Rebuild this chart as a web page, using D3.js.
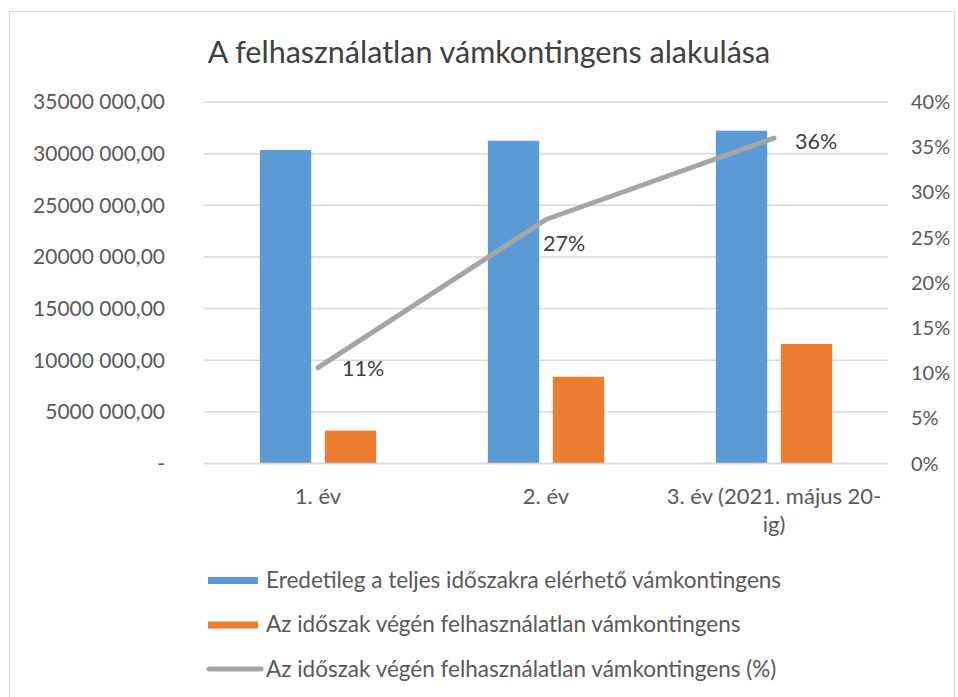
<!DOCTYPE html>
<html>
<head>
<meta charset="utf-8">
<script src="https://cdn.jsdelivr.net/npm/d3@7"></script>
<style>
  body { margin: 0; background: #fff; }
  text { font-family: Lato, "Open Sans", sans-serif; }
</style>
</head>
<body>
<div id="chart"></div>
<script>
// adatok
const categories = ["1. év", "2. év", "3. év (2021. május 20-ig)"];
const categoryLines = [["1. év"], ["2. év"], ["3. év (2021. május 20-", "ig)"]];
const seriesNames = [
  "Eredetileg a teljes időszakra elérhető vámkontingens",
  "Az időszak végén felhasználatlan vámkontingens",
  "Az időszak végén felhasználatlan vámkontingens (%)"
];
const available = [30350000, 31250000, 32220000];
const unused = [3180000, 8400000, 11570000];
const unusedPct = [0.106, 0.27, 0.36];
const leftTicks = [0, 5000000, 10000000, 15000000, 20000000, 25000000, 30000000, 35000000];
const rightTicks = [0, 0.05, 0.10, 0.15, 0.20, 0.25, 0.30, 0.35, 0.40];
const colors = ["#5B9BD5", "#ED7D31", "#A5A5A5"];

const width = 958, height = 697;
const plot = { left: 204, right: 888, top: 102, bottom: 463.5 };

const svg = d3.select("#chart").append("svg")
  .attr("width", width)
  .attr("height", height);

// keret
svg.append("rect")
  .attr("x", 9.5).attr("y", 11.5)
  .attr("width", 945).attr("height", 700)
  .attr("fill", "#fff")
  .attr("stroke", "#D9D9D9");

svg.append("text")
  .attr("x", 489).attr("y", 63)
  .attr("text-anchor", "middle")
  .attr("fill", "#404040")
  .attr("font-size", 30.5)
  .text("A felhasználatlan vámkontingens alakulása");

const x = d3.scaleBand().domain(categories).range([plot.left, plot.right]);
const xSub = d3.scaleBand().domain([0, 1])
  .range([x.bandwidth() * 0.245, x.bandwidth() * 0.755])
  .paddingInner(0.21);
const y = d3.scaleLinear().domain([0, 35000000]).range([plot.bottom, plot.top]);
const y2 = d3.scaleLinear().domain([0, 0.4]).range([plot.bottom, plot.top]);

const fmtLeft = v => v === 0 ? "-" :
  Math.floor(v / 1000) + " " + String(v % 1000).padStart(3, "0") + ",00";

// rácsvonalak
svg.append("g")
  .selectAll("line")
  .data(leftTicks)
  .join("line")
  .attr("x1", plot.left).attr("x2", plot.right)
  .attr("y1", d => y(d)).attr("y2", d => y(d))
  .attr("stroke", "#D9D9D9")
  .attr("stroke-width", 1.5);

svg.append("g")
  .selectAll("text")
  .data(leftTicks)
  .join("text")
  .attr("x", 165)
  .attr("y", d => y(d))
  .attr("dy", "0.35em")
  .attr("text-anchor", "end")
  .attr("fill", "#595959")
  .attr("font-size", 21)
  .text(fmtLeft);

svg.append("g")
  .selectAll("text")
  .data(rightTicks)
  .join("text")
  .attr("x", 911)
  .attr("y", d => y2(d))
  .attr("dy", "0.35em")
  .attr("fill", "#595959")
  .attr("font-size", 20)
  .text(d3.format(".0%"));

// oszlopok
const groups = svg.append("g")
  .selectAll("g")
  .data(categories)
  .join("g")
  .attr("transform", d => `translate(${x(d)},0)`);

groups.selectAll("rect")
  .data((d, i) => [available[i], unused[i]])
  .join("rect")
  .attr("x", (d, j) => xSub(j))
  .attr("width", xSub.bandwidth())
  .attr("y", d => y(d))
  .attr("height", d => y(0) - y(d))
  .attr("fill", (d, j) => colors[j]);

// x tengely
svg.append("line")
  .attr("x1", plot.left).attr("x2", plot.right)
  .attr("y1", y(0)).attr("y2", y(0))
  .attr("stroke", "#D9D9D9")
  .attr("stroke-width", 1.5);

svg.append("g")
  .selectAll("text")
  .data(categories)
  .join("text")
  .attr("x", d => x(d) + x.bandwidth() / 2)
  .attr("y", 504)
  .attr("text-anchor", "middle")
  .attr("fill", "#595959")
  .attr("font-size", 22)
  .each(function(d, i) {
    d3.select(this).selectAll("tspan")
      .data(categoryLines[i])
      .join("tspan")
      .attr("x", x(d) + x.bandwidth() / 2)
      .attr("dy", (t, k) => k === 0 ? 0 : 28)
      .text(t => t);
  });

// vonal
const pts = categories.map((c, i) => [x(c) + x.bandwidth() / 2, y2(unusedPct[i])]);
svg.append("path")
  .attr("d", d3.line()(pts))
  .attr("fill", "none")
  .attr("stroke", colors[2])
  .attr("stroke-width", 5)
  .attr("stroke-linecap", "round")
  .attr("stroke-linejoin", "round");

const labelOffset = [[24, 1], [-3, 24], [21, 3]];
svg.append("g")
  .selectAll("text")
  .data(unusedPct)
  .join("text")
  .attr("x", (d, i) => pts[i][0] + labelOffset[i][0])
  .attr("y", (d, i) => pts[i][1] + labelOffset[i][1])
  .attr("dy", "0.35em")
  .attr("fill", "#404040")
  .attr("font-size", 21.5)
  .text(d3.format(".0%"));

// jelmagyarázat
const legend = svg.append("g")
  .selectAll("g")
  .data(seriesNames)
  .join("g")
  .attr("transform", (d, i) => `translate(208,${580 + i * 44.5})`);

legend.filter((d, i) => i < 2).append("rect")
  .attr("x", 0).attr("y", -3)
  .attr("width", 50).attr("height", 7)
  .attr("fill", (d, i) => colors[i]);

legend.filter((d, i) => i === 2).append("line")
  .attr("x1", 1).attr("x2", 53)
  .attr("stroke", colors[2])
  .attr("stroke-width", 5)
  .attr("stroke-linecap", "round");

legend.append("text")
  .attr("x", 58)
  .attr("dy", "0.35em")
  .attr("fill", "#595959")
  .attr("font-size", 22.5)
  .text(d => d);
</script>
</body>
</html>
